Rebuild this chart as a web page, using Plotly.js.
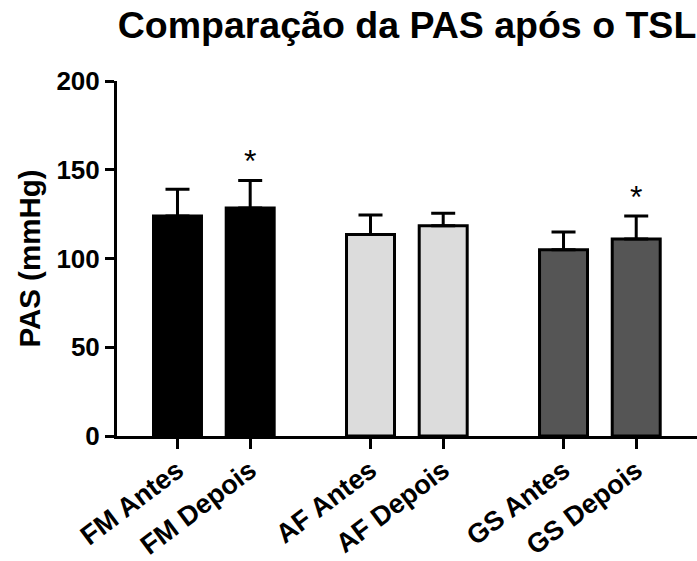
<!DOCTYPE html>
<html>
<head>
<meta charset="utf-8">
<script src="https://cdn.plot.ly/plotly-3.0.1.min.js"></script>
<style>html,body{margin:0;padding:0;background:#fff;}#chart{width:697px;height:561px;}</style>
</head>
<body>
<div id="chart"></div>
<script>
// ---- data ----
const categories = ['FM Antes', 'FM Depois', 'AF Antes', 'AF Depois', 'GS Antes', 'GS Depois'];
const groupOf    = [0, 0, 1, 1, 2, 2];
const meanPAS    = [124, 128.5, 113.5, 118.5, 105, 111];
const sdPAS      = [15, 15.5, 11, 7, 10, 13];
const sigMarks   = ['', '*', '', '', '', '*'];
const barColors  = ['#000000', '#000000', '#dcdcdc', '#dcdcdc', '#555555', '#555555'];
const yTicks     = [0, 50, 100, 150, 200];

// ---- layout helpers ----
const GROUP_GAP = 0.655;
const xPos = categories.map((c, i) => i + groupOf[i] * GROUP_GAP);
const FONT = 'Arial, "Liberation Sans", Helvetica, sans-serif';

const bars = {
  type: 'bar',
  x: xPos,
  y: meanPAS,
  width: 0.66,
  marker: { color: barColors, line: { color: '#000', width: 3 } },
  error_y: {
    type: 'data', symmetric: false, array: sdPAS,
    arrayminus: sdPAS.map(() => 0),
    color: '#000', thickness: 3, width: 12
  },
  hoverinfo: 'skip'
};

const annotations = categories.map((c, i) => ({
  x: xPos[i], y: meanPAS[i] + sdPAS[i], xref: 'x', yref: 'y',
  text: sigMarks[i], showarrow: false,
  yanchor: 'bottom', yshift: -1,
  font: { family: FONT, size: 32, color: '#000' }
})).filter(a => a.text);

const layout = {
  width: 697, height: 561,
  margin: { l: 117, r: 0, t: 81, b: 125 },
  paper_bgcolor: '#fff', plot_bgcolor: '#fff',
  showlegend: false,
  title: {
    text: 'Comparação da PAS após o TSL',
    font: { family: FONT, size: 37.5, color: '#000', weight: 700 },
    x: 0.5, xanchor: 'center', xref: 'paper',
    y: 1 - 25 / 561, yanchor: 'middle', yref: 'container'
  },
  xaxis: {
    range: [-0.832, 7.146],
    tickvals: xPos, ticktext: categories,
    tickangle: -37,
    ticklabelstandoff: -5,
    ticks: 'outside', ticklen: 10, tickwidth: 3, tickcolor: '#000',
    showline: true, linewidth: 3, linecolor: '#000',
    showgrid: false, zeroline: false,
    tickfont: { family: FONT, size: 27, color: '#000', weight: 700 }
  },
  yaxis: {
    range: [0, 200],
    tickvals: yTicks,
    ticks: 'outside', ticklen: 9, tickwidth: 3, tickcolor: '#000',
    showline: true, linewidth: 3, linecolor: '#000',
    showgrid: false, zeroline: false,
    tickfont: { family: FONT, size: 26, color: '#000', weight: 700 },
    title: { text: 'PAS (mmHg)', font: { family: FONT, size: 29.5, color: '#000', weight: 700 }, standoff: 8 }
  },
  annotations: annotations,
  font: { family: FONT, color: '#000' }
};

Plotly.newPlot('chart', [bars], layout, { displayModeBar: false, staticPlot: true });
</script>
</body>
</html>
